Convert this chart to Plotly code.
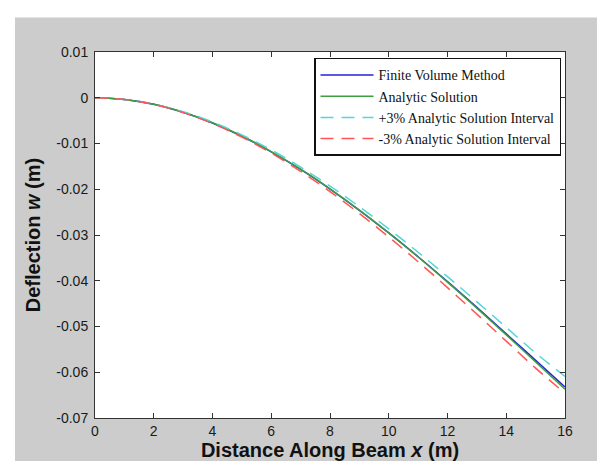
import plotly.graph_objects as go

# ---- data ----
x_m = [0, 1, 2, 3, 4, 5, 6, 7, 8, 9, 10, 11, 12, 13, 14, 15, 16]
fvm = [0, -0.00036, -0.00142, -0.00318, -0.00552, -0.00842, -0.01182, -0.01568,
       -0.01996, -0.02460, -0.02955, -0.03475, -0.04020, -0.04583, -0.05160,
       -0.05740, -0.06320]
analytic = [0, -0.00037, -0.00143, -0.00315, -0.00547, -0.00836, -0.01176, -0.01562,
            -0.01991, -0.02456, -0.02955, -0.03481, -0.04031, -0.04599, -0.05182,
            -0.05774, -0.06370]
plus3 = [0, -0.00036, -0.00139, -0.00306, -0.00531, -0.00811, -0.01141, -0.01515,
         -0.01931, -0.02382, -0.02866, -0.03377, -0.03910, -0.04461, -0.05020,
         -0.05580, -0.06090]
minus3 = [0, -0.00038, -0.00147, -0.00324, -0.00563, -0.00861, -0.01211, -0.01609,
          -0.02051, -0.02530, -0.03044, -0.03585, -0.04150, -0.04730, -0.05320,
          -0.05910, -0.06460]

series_names = ["Finite Volume Method", "Analytic Solution",
                "+3% Analytic Solution Interval", "-3% Analytic Solution Interval"]

x_ticks = [0, 2, 4, 6, 8, 10, 12, 14, 16]
y_ticks = [0.01, 0, -0.01, -0.02, -0.03, -0.04, -0.05, -0.06, -0.07]
y_ticktext = ["0.01", "0", "-0.01", "-0.02", "-0.03", "-0.04", "-0.05", "-0.06", "-0.07"]

W, H = 605, 461
ML, MR, MT, MB = 87, 48, 44, 45

fig = go.Figure()
fig.add_trace(go.Scatter(x=x_m, y=fvm, name=series_names[0], mode="lines",
                         line=dict(color="#2222dd", width=1.5, shape="spline")))
fig.add_trace(go.Scatter(x=x_m, y=analytic, name=series_names[1], mode="lines",
                         line=dict(color="#3f9f3f", width=1.5, shape="spline")))
fig.add_trace(go.Scatter(x=x_m, y=plus3, name=series_names[2], mode="lines",
                         line=dict(color="#55d5d5", width=1.5, shape="spline", dash="13px,8px")))
fig.add_trace(go.Scatter(x=x_m, y=minus3, name=series_names[3], mode="lines",
                         line=dict(color="#ff5555", width=1.5, shape="spline", dash="13px,8px")))

pw = W - ML - MR
ph = H - MT - MB
# white strips at top and left of the figure (outside the gray panel)
fig.add_shape(type="rect", xref="paper", yref="paper", layer="below",
              x0=-ML / pw, x1=1 + MR / pw, y0=1 + (MT - 9) / ph, y1=1 + MT / ph + 0.01,
              line_width=0, fillcolor="white")
fig.add_shape(type="rect", xref="paper", yref="paper", layer="below",
              x0=-ML / pw - 0.01, x1=(7 - ML) / pw, y0=-MB / ph - 0.01, y1=1 + MT / ph + 0.01,
              line_width=0, fillcolor="white")

axis_common = dict(showline=True, linecolor="#333333", linewidth=1, mirror="ticks",
                   ticks="inside", ticklen=5, tickcolor="#333333", showgrid=False,
                   zeroline=False,
                   tickfont=dict(family="Liberation Sans, Arial", size=14, color="#1a1a1a"))

fig.update_layout(
    width=W, height=H,
    margin=dict(l=ML, r=MR, t=MT, b=MB, pad=0),
    paper_bgcolor="#cccccc", plot_bgcolor="white",
    xaxis=dict(range=[0, 16], tickvals=x_ticks, ticktext=[str(v) for v in x_ticks],
               title=dict(text="<b>Distance Along Beam <i>x</i> (m)</b>", standoff=4,
                          font=dict(family="Liberation Sans, Arial", size=20, color="#111111")),
               **axis_common),
    yaxis=dict(range=[-0.07, 0.01], tickvals=y_ticks, ticktext=y_ticktext,
               ticklabelstandoff=3,
               title=dict(text="<b>Deflection <i>w</i> (m)</b>", standoff=10,
                          font=dict(family="Liberation Sans, Arial", size=20, color="#111111")),
               **axis_common),
    showlegend=True,
    legend=dict(x=(553 - ML) / pw, y=1 - (50 - MT) / ph, xanchor="right", yanchor="top",
                bgcolor="white", bordercolor="#111111", borderwidth=1.5,
                font=dict(family="Liberation Serif, Times New Roman", size=14, color="#111111"),
                itemwidth=53, tracegroupgap=0),
)

fig.write_html("out.html")
